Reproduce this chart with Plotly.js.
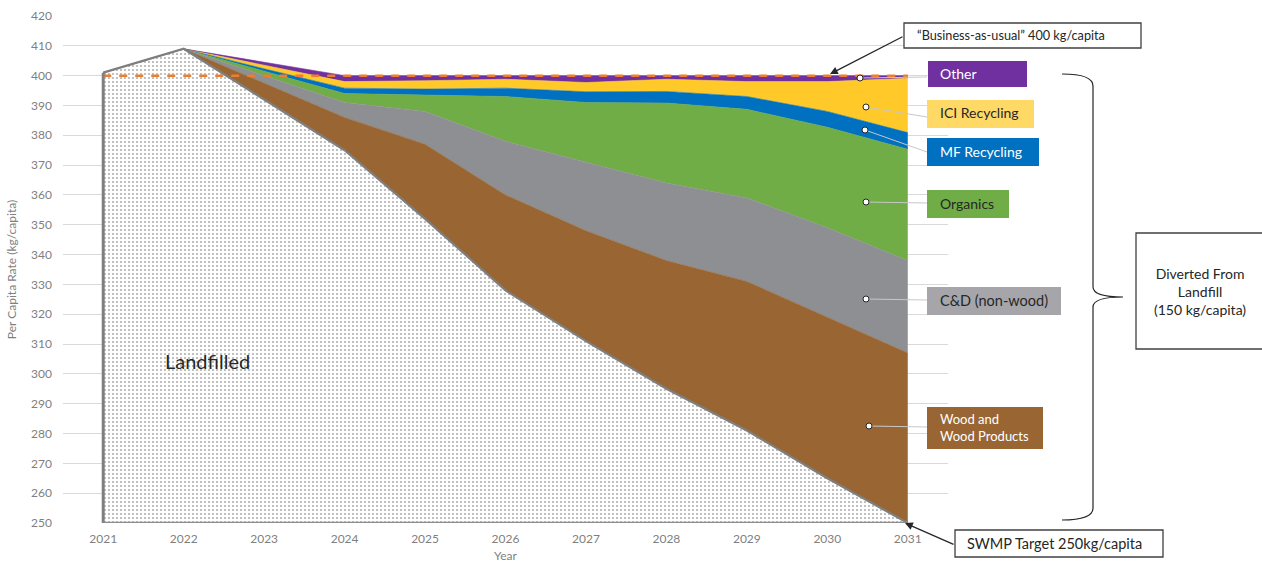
<!DOCTYPE html>
<html>
<head>
<meta charset="utf-8">
<script src="https://cdn.plot.ly/plotly-3.0.1.min.js"></script>
<style>html,body{margin:0;padding:0;background:#fff;}#chart{width:1262px;height:563px;}</style>
</head>
<body>
<div id="chart"></div>
<script>
// ---- data ----
const years = [2021, 2022, 2023, 2024, 2025, 2026, 2027, 2028, 2029, 2030, 2031];
const landfilled = [401, 409, 392, 375, 352, 328, 311, 295, 281, 265, 250];
const wood      = [0, 0, 5.5, 11, 25, 32, 37, 43, 50, 54, 57];
const cdNonWood = [0, 0, 2.5, 5, 11, 18, 23, 26, 28, 30, 31];
const organics  = [0, 0, 1.5, 3, 5.5, 15, 20, 26.8, 29.7, 33.7, 37.3];
const mfRecycling  = [0, 0, 0.8, 1.8, 2, 2.8, 3.6, 3.9, 4.3, 5.3, 5.6];
const iciRecycling = [0, 0, 1.2, 2.2, 2.8, 3, 3.1, 4.1, 5, 10, 18.2];
const other     = [0, 0, 1, 2, 1.7, 1.2, 2.3, 1.2, 2, 2, 0.9];
const businessAsUsual = [400, 400, 400, 400, 400, 400, 400, 400, 400, 400, 400];
const yTicks = [250, 260, 270, 280, 290, 300, 310, 320, 330, 340, 350, 360, 370, 380, 390, 400, 410, 420];
const axisFloor = 250;

// ---- geometry helpers (pixel -> paper) ----
const L = 63, R = 948, T = 16, B = 523;
const px = x => (x - L) / (R - L);
const py = y => (B - y) / (B - T);
const FONT = 'Lato, "Open Sans", sans-serif';

const C = {
  wood: '#996633', cd: '#8E8F93', org: '#70AD47', mf: '#0070C0', ici: '#FFC929', other: '#7030A0'
};

function layer(name, vals, color, extra) {
  return Object.assign({
    type: 'scatter', mode: 'lines', name: name, x: years, y: vals,
    stackgroup: 'one', line: {width: 0.6, color: color}, fillcolor: color,
    hoverinfo: 'skip', showlegend: false
  }, extra || {});
}

const last = years.length - 1;
const traces = [
  layer('Landfilled', landfilled, '#7F7F7F', {
    line: {width: 0, color: '#7F7F7F'}, fillcolor: '#ffffff',
    fillpattern: {shape: '.', fgcolor: '#6a6a6a', bgcolor: '#ffffff', size: 4, solidity: 0.12}
  }),
  layer('Wood and Wood Products', wood, C.wood),
  layer('C&D (non-wood)', cdNonWood, C.cd),
  layer('Organics', organics, C.org),
  layer('MF Recycling', mfRecycling, C.mf),
  layer('ICI Recycling', iciRecycling, C.ici),
  layer('Other', other, C.other),
  {
    type: 'scatter', mode: 'lines', name: 'Business-as-usual', x: years, y: businessAsUsual,
    line: {color: '#ED7D31', width: 2.5, dash: '8px,8px'}, hoverinfo: 'skip', showlegend: false
  },
  {
    type: 'scatter', mode: 'lines', name: 'Landfilled outline', x: years, y: landfilled,
    line: {color: '#7F7F7F', width: 2.2, simplify: false}, hoverinfo: 'skip', showlegend: false, cliponaxis: false
  },
  {
    type: 'scatter', mode: 'lines', name: 'Landfilled left edge', x: [years[0], years[0]], y: [axisFloor, landfilled[0]],
    line: {color: '#7F7F7F', width: 3}, hoverinfo: 'skip', showlegend: false, cliponaxis: false
  },
  {
    type: 'scatter', mode: 'lines', name: 'Landfilled base', x: [years[0], years[last]], y: [axisFloor, axisFloor],
    line: {color: '#8C8C8C', width: 2.5}, hoverinfo: 'skip', showlegend: false, cliponaxis: false
  }
];

const shapes = [];
const annotations = [];

function box(x0, y0, x1, y1, fill, border) {
  shapes.push({type: 'rect', xref: 'paper', yref: 'paper', x0: px(x0), x1: px(x1), y0: py(y1), y1: py(y0),
    fillcolor: fill, line: {width: border ? 1.3 : 0, color: border || fill}, layer: 'above'});
}
function seg(x0, y0, x1, y1, color, w) {
  shapes.push({type: 'line', xref: 'paper', yref: 'paper', x0: px(x0), x1: px(x1), y0: py(y0), y1: py(y1),
    line: {color: color, width: w}, layer: 'above'});
}
function dot(x, y) {
  shapes.push({type: 'circle', xref: 'paper', yref: 'paper', x0: px(x - 3), x1: px(x + 3), y0: py(y + 3), y1: py(y - 3),
    fillcolor: '#ffffff', line: {color: '#262626', width: 1}, layer: 'above'});
}
function text(x, y, t, opts) {
  annotations.push(Object.assign({xref: 'paper', yref: 'paper', x: px(x), y: py(y), text: t, showarrow: false,
    xanchor: 'left', yanchor: 'middle', align: 'left', font: {family: FONT, size: 14, color: '#262626'}}, opts || {}));
}

// leader lines
seg(860, 78, 927, 77, '#C8C8C8', 1);
seg(866, 107, 927, 117, '#C8C8C8', 1);
seg(865, 130, 927, 152, '#C8C8C8', 1);
seg(866, 202, 927, 203, '#C8C8C8', 1);
seg(866, 299, 927, 300, '#C8C8C8', 1);
seg(869, 426, 927, 427, '#C8C8C8', 1);

// label boxes
box(928, 61, 1027, 87, '#7030A0');
box(927, 100, 1034, 128, '#FFD966');
box(927, 138, 1039, 166, '#0070C0');
box(927, 190, 1009, 218, '#70AD47');
box(927, 287, 1061, 315, '#A6A6AA');
box(927, 407, 1043, 449, '#996633');

text(938, 73, 'Other', {font: {family: FONT, size: 14, color: '#ffffff'}});
text(938, 113, 'ICI Recycling');
text(938, 151, 'MF Recycling', {font: {family: FONT, size: 14, color: '#ffffff'}});
text(938, 203, 'Organics');
text(938, 300, 'C&amp;D (non-wood)', {font: {family: FONT, size: 14.5, color: '#262626'}});
text(938, 427, 'Wood and<br>Wood Products', {font: {family: FONT, size: 13, color: '#ffffff'}});

// dots
dot(860, 78); dot(866, 107); dot(865, 130); dot(866, 202); dot(866, 299); dot(869, 426);

// callout boxes
box(904, 23, 1141, 48, '#ffffff', '#404040');
text(915, 35, '\u201CBusiness-as-usual\u201D 400 kg/capita', {font: {family: FONT, size: 12.7, color: '#262626'}});
box(955, 530, 1163, 557, '#ffffff', '#404040');
text(965, 543, 'SWMP Target 250kg/capita', {font: {family: FONT, size: 14.5, color: '#262626'}});
box(1136, 233, 1268, 349, '#ffffff', '#404040');
text(1200, 291, 'Diverted From<br>Landfill<br>(150 kg/capita)', {xanchor: 'center', align: 'center',
  font: {family: FONT, size: 14, color: '#262626'}});

// arrows
annotations.push({xref: 'paper', yref: 'paper', x: px(830), y: py(74), ax: 74, ay: -38, text: '',
  showarrow: true, arrowhead: 2, arrowsize: 1.2, arrowwidth: 1.3, arrowcolor: '#262626'});
annotations.push({xref: 'paper', yref: 'paper', x: px(905), y: py(523), ax: 50, ay: 22, text: '',
  showarrow: true, arrowhead: 2, arrowsize: 1.2, arrowwidth: 1.3, arrowcolor: '#262626'});

// brace
const bp = [
  ['M', 1062, 74], ['Q', 1093, 74, 1093, 86], ['L', 1093, 287], ['Q', 1093, 297, 1123, 297],
  ['Q', 1093, 297, 1093, 307], ['L', 1093, 508], ['Q', 1093, 520, 1062, 520]
];
const bracePath = bp.map(s => {
  const pts = [];
  for (let i = 1; i < s.length; i += 2) pts.push(px(s[i]) + ',' + py(s[i + 1]));
  return s[0] + pts.join(' ');
}).join(' ');
shapes.push({type: 'path', xref: 'paper', yref: 'paper', path: bracePath, line: {color: '#262626', width: 1.2}, layer: 'above'});

// Landfilled label
text(163, 361, 'Landfilled', {font: {family: FONT, size: 20, color: '#262626'}});

const layout = {
  width: 1262, height: 563,
  margin: {l: L, r: 1262 - R, t: T, b: 563 - B, pad: 0},
  paper_bgcolor: '#ffffff', plot_bgcolor: '#ffffff',
  showlegend: false,
  font: {family: FONT, size: 11, color: '#595959'},
  xaxis: {
    range: [2020.5, 2031.5], tickvals: years, ticktext: years.map(String),
    showgrid: false, zeroline: false, showline: false, ticks: '',
    tickfont: {family: FONT, size: 12, color: '#7F7F7F'}, ticklabelstandoff: 7,
    title: {text: 'Year', font: {family: FONT, size: 12, color: '#7F7F7F'}, standoff: 7}
  },
  yaxis: {
    range: [250, 420], tickvals: yTicks, showgrid: true, gridcolor: '#D9D9D9', gridwidth: 1,
    zeroline: false, showline: false, ticks: '',
    tickfont: {family: FONT, size: 12, color: '#7F7F7F'}, ticklabelstandoff: 10,
    title: {text: 'Per Capita Rate (kg/capita)', font: {family: FONT, size: 12, color: '#7F7F7F'}, standoff: 11}
  },
  shapes: shapes,
  annotations: annotations
};

Plotly.newPlot('chart', traces, layout, {displayModeBar: false, staticPlot: true});
</script>
</body>
</html>
